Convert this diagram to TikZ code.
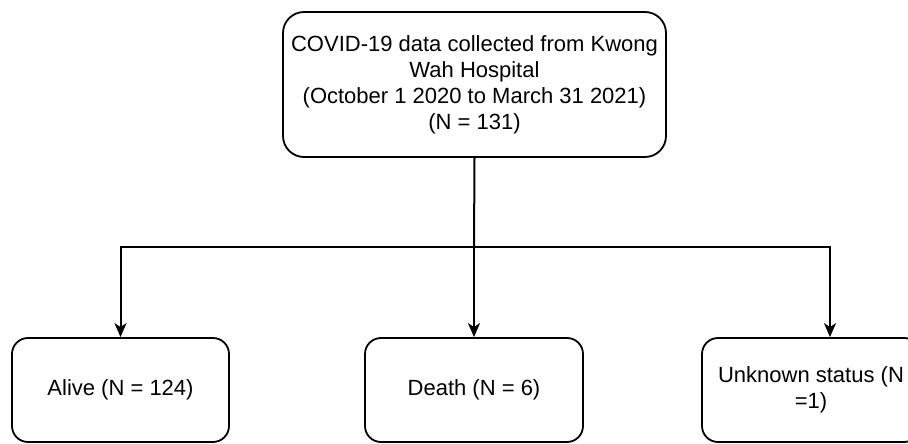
\documentclass[tikz,border=0pt]{standalone}
\usepackage{fontspec}
\setmainfont{Liberation Sans}
\usetikzlibrary{arrows.meta}
\begin{document}
\begin{tikzpicture}[x=1pt,y=-1pt,
  box/.style={draw=black, line width=1.8pt, fill=white, rectangle, inner sep=0pt, align=center,
    font=\fontsize{22}{26}\selectfont},
  link/.style={line width=2pt, draw=black},
  arrowlink/.style={link, -{Stealth[length=14pt,width=12pt,inset=4pt]}}]
\useasboundingbox (0,0) rectangle (908,444);
\fill[white] (0,0) rectangle (908,444);
\node[box, rounded corners=21pt, minimum width=383pt, minimum height=145pt] (top) at (474.5,84.5)
  {COVID-19 data collected from Kwong\\Wah Hospital\\(October 1 2020 to March 31 2021)\\(N = 131)};
\node[box, rounded corners=16pt, minimum width=217pt, minimum height=104pt] (alive) at (120.5,390) {Alive (N = 124)};
\node[box, rounded corners=16pt, minimum width=218pt, minimum height=104pt] (death) at (474,390) {Death (N = 6)};
\node[box, rounded corners=16pt, minimum width=218pt, minimum height=104pt] (unknown) at (811,390) {Unknown status (N\\=1)};
\coordinate (j) at (474,247);
\draw[link] (top.south) -- (j);
\draw[arrowlink] (j) -| (alive.north);
\draw[arrowlink] (j) -- (death.north);
\draw[arrowlink] (j) -| ([xshift=19pt]unknown.north);
\end{tikzpicture}
\end{document}
